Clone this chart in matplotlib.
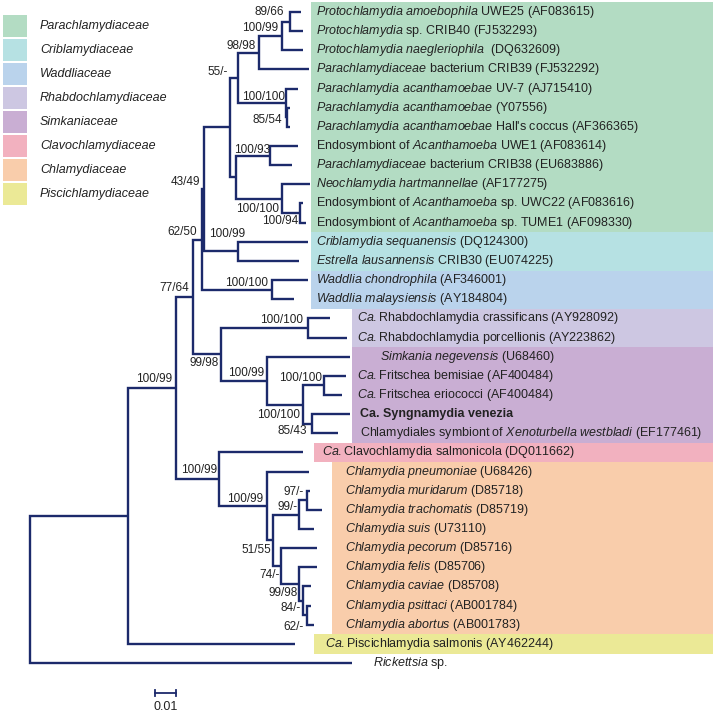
import matplotlib
matplotlib.use('Agg')
import matplotlib.pyplot as plt
from matplotlib.patches import Rectangle

plt.rcParams['font.family'] = 'Liberation Sans'
plt.rcParams['mathtext.fontset'] = 'custom'
plt.rcParams['mathtext.rm'] = 'Liberation Sans'
plt.rcParams['mathtext.it'] = 'Liberation Sans:italic'
plt.rcParams['mathtext.bf'] = 'Liberation Sans:bold'

# --- tree data -------------------------------------------------------------
# internal nodes, parents always listed before their children
node_names = ['root', 'ingroup', 'top', 'n77', 'n62', 'n43', 'para', 'n55',
              'n98', 'proto', 'n89', 'pac', 'n85', 'endo', 'n93', 'neo',
              'n94', 'crib', 'wad', 'n99', 'rhab', 'simk', 'frix', 'fri',
              'n85b', 'chlcl', 'chl', 'n51', 'n99m', 'n97', 'n74', 'n99c',
              'n84', 'n62c']
node_parent = [None, 'root', 'ingroup', 'top', 'n77', 'n62', 'n43', 'para',
               'n55', 'n98', 'proto', 'n55', 'pac', 'para', 'endo', 'endo',
               'neo', 'n43', 'n62', 'n77', 'n99', 'n99', 'simk', 'frix',
               'frix', 'top', 'chlcl', 'chl', 'n51', 'n99m', 'n51', 'n74',
               'n99c', 'n84']
# branch lengths (substitutions / site)
node_len = [0.0, 0.0467, 0.0229, 0.0081, 0.0043, 0.0010, 0.0124, 0.0038,
            0.0100, 0.0110, 0.0038, 0.0229, 0.0005, 0.0029, 0.0162, 0.0219,
            0.0086, 0.0162, 0.0333, 0.0133, 0.0414, 0.0219, 0.0171, 0.0100,
            0.0043, 0.0205, 0.0229, 0.0029, 0.0124, 0.0038, 0.0038, 0.0086,
            0.0019, 0.0019]
node_support = ['', '', '100/99', '77/64', '62/50', '43/49', '', '55/-',
                '98/98', '100/99', '89/66', '100/100', '85/54', '', '100/93',
                '100/100', '100/94', '100/99', '100/100', '99/98', '100/100',
                '100/99', '100/100', '100/100', '85/43', '100/99', '100/99',
                '51/55', '99/-', '97/-', '74/-', '99/98', '84/-', '62/-']

# leaves, top to bottom
leaf_labels = [
    r"$\mathit{Protochlamydia\ amoebophila}$ UWE25 (AF083615)",
    r"$\mathit{Protochlamydia}$ sp. CRIB40 (FJ532293)",
    r"$\mathit{Protochlamydia\ naegleriophila}$  (DQ632609)",
    r"$\mathit{Parachlamydiaceae}$ bacterium CRIB39 (FJ532292)",
    r"$\mathit{Parachlamydia\ acanthamoebae}$ UV-7 (AJ715410)",
    r"$\mathit{Parachlamydia\ acanthamoebae}$ (Y07556)",
    r"$\mathit{Parachlamydia\ acanthamoebae}$ Hall's coccus (AF366365)",
    r"Endosymbiont of $\mathit{Acanthamoeba}$ UWE1 (AF083614)",
    r"$\mathit{Parachlamydiaceae}$ bacterium CRIB38 (EU683886)",
    r"$\mathit{Neochlamydia\ hartmannellae}$ (AF177275)",
    r"Endosymbiont of $\mathit{Acanthamoeba}$ sp. UWC22 (AF083616)",
    r"Endosymbiont of $\mathit{Acanthamoeba}$ sp. TUME1 (AF098330)",
    r"$\mathit{Criblamydia\ sequanensis}$ (DQ124300)",
    r"$\mathit{Estrella\ lausannensis}$ CRIB30 (EU074225)",
    r"$\mathit{Waddlia\ chondrophila}$ (AF346001)",
    r"$\mathit{Waddlia\ malaysiensis}$ (AY184804)",
    r"$\mathit{Ca.}$Rhabdochlamydia crassificans (AY928092)",
    r"$\mathit{Ca.}$Rhabdochlamydia porcellionis (AY223862)",
    r"$\mathit{Simkania\ negevensis}$ (U68460)",
    r"$\mathit{Ca.}$Fritschea bemisiae (AF400484)",
    r"$\mathit{Ca.}$Fritschea eriococci (AF400484)",
    "Ca. Syngnamydia venezia",
    r"Chlamydiales symbiont of $\mathit{Xenoturbella\ westbladi}$ (EF177461)",
    r"$\mathit{Ca.}$Clavochlamydia salmonicola (DQ011662)",
    r"$\mathit{Chlamydia\ pneumoniae}$ (U68426)",
    r"$\mathit{Chlamydia\ muridarum}$ (D85718)",
    r"$\mathit{Chlamydia\ trachomatis}$ (D85719)",
    r"$\mathit{Chlamydia\ suis}$ (U73110)",
    r"$\mathit{Chlamydia\ pecorum}$ (D85716)",
    r"$\mathit{Chlamydia\ felis}$ (D85706)",
    r"$\mathit{Chlamydia\ caviae}$ (D85708)",
    r"$\mathit{Chlamydia\ psittaci}$ (AB001784)",
    r"$\mathit{Chlamydia\ abortus}$ (AB001783)",
    r"$\mathit{Ca.}$Piscichlamydia salmonis (AY462244)",
    r"$\mathit{Rickettsia}$ sp.",
]
bold_leaves = [21]
leaf_parent = ['n89', 'n89', 'proto', 'n98', 'pac', 'n85', 'n85', 'n93', 'n93',
               'neo', 'n94', 'n94', 'crib', 'crib', 'wad', 'wad', 'rhab', 'rhab',
               'simk', 'fri', 'fri', 'n85b', 'n85b', 'chlcl', 'chl', 'n97', 'n97',
               'n99m', 'n74', 'n99c', 'n84', 'n62c', 'n62c', 'ingroup', 'root']
leaf_len = [0.0052, 0.0062, 0.0100, 0.0238, 0.0057, 0.0010, 0.0010, 0.0129,
            0.0105, 0.0133, 0.0014, 0.0024, 0.0333, 0.0290, 0.0171, 0.0105,
            0.0105, 0.0186, 0.0395, 0.0105, 0.0086, 0.0181, 0.0124, 0.0400,
            0.0200, 0.0014, 0.0071, 0.0071, 0.0171, 0.0086, 0.0038, 0.0019,
            0.0029, 0.0795, 0.1533]

# families: first / last leaf row
families = ['Parachlamydiaceae', 'Criblamydiaceae', 'Waddliaceae',
            'Rhabdochlamydiaceae', 'Simkaniaceae', 'Clavochlamydiaceae',
            'Chlamydiaceae', 'Piscichlamydiaceae']
family_first = [0, 12, 14, 16, 18, 23, 24, 33]
family_last = [11, 13, 15, 17, 22, 23, 32, 33]
family_colors = ['#b3dcc3', '#b6e1e3', '#bad3ec', '#cdc7e2', '#c9aed3',
                 '#f2b1bf', '#f9cdab', '#ebe996']

# --- layout (pixels of the 716x715 figure) ----------------------------------
W, H = 716, 715
ROOT_PX = 30
PX_PER_UNIT = 2100.0
ROW0_PX, ROW_PX = 12.0, 19.15
box_left_px = [311, 311, 311, 352, 352, 314, 332, 314]
text_left_px = [316, 316, 316, 357, 357, 322, 345, 325]
box_right_px = 713
label_left_override = {18: 380, 21: 360, 22: 360, 34: 373}
# support label offsets (dx, dy) in pixels from the node, text right aligned
support_offset = {
    'top': (-4, -9), 'n77': (-4, -9), 'n62': (-5, -8), 'n43': (-4, -7),
    'n55': (-10, -6), 'n98': (-4, -7), 'proto': (-4, -8), 'n89': (-6, -9.5),
    'pac': (-1, -6), 'n85': (-5, 2.5), 'n93': (0, -6), 'neo': (-3, 10),
    'n94': (-2, 7.5), 'crib': (7, -17), 'wad': (-4, -7), 'n99': (-2, 9),
    'rhab': (-5, -7.5), 'simk': (-3, -8), 'frix': (-3, 10), 'fri': (-2, -7.5),
    'n85b': (-5, 7.5), 'chlcl': (-2, -9), 'chl': (-4, -7), 'n51': (-2, 10),
    'n99m': (-2, -7.5), 'n97': (-4, -8.5), 'n74': (-2, 9), 'n99c': (-2, 8.5),
    'n84': (-3, 7), 'n62c': (-4, 11.5),
}

LINE = '#1c2a6b'
TXT = '#222222'


def px_x(px):
    return (px - ROOT_PX) / PX_PER_UNIT


def px_y(py):
    return (py - ROW0_PX) / ROW_PX


# --- compute node positions -------------------------------------------------
xpos = {}
for name, par, bl in zip(node_names, node_parent, node_len):
    xpos[name] = 0.0 if par is None else xpos[par] + bl

children = {n: [] for n in node_names}
ypos = {}
leaf_x = []
for i, (par, bl) in enumerate(zip(leaf_parent, leaf_len)):
    leaf_x.append(xpos[par] + bl)
    ypos[('leaf', i)] = i
    children[par].append(('leaf', i))
for name, par in zip(node_names, node_parent):
    if par is not None:
        children[par].append(name)
for name in reversed(node_names):
    ys = [ypos[c] for c in children[name]]
    ypos[name] = (min(ys) + max(ys)) / 2.0

# --- draw -------------------------------------------------------------------
fig = plt.figure(figsize=(W / 100, H / 100), dpi=100)
ax = fig.add_axes([0, 0, 1, 1])
ax.set_xlim(px_x(0), px_x(W))
ax.set_ylim(px_y(H), px_y(0))
ax.axis('off')

# family boxes
for k in range(len(families)):
    x0 = px_x(box_left_px[k])
    ax.add_patch(Rectangle((x0, family_first[k] - 0.5), px_x(box_right_px) - x0,
                           family_last[k] - family_first[k] + 1,
                           facecolor=family_colors[k], edgecolor='none', zorder=0))

lw = 1.7
# branches
for name, par in zip(node_names, node_parent):
    if par is None:
        continue
    ax.plot([xpos[par], xpos[par], xpos[name]], [ypos[par], ypos[name], ypos[name]],
            color=LINE, lw=lw, solid_joinstyle='miter', solid_capstyle='butt', zorder=2)
for i, par in enumerate(leaf_parent):
    ax.plot([xpos[par], xpos[par], leaf_x[i]], [ypos[par], i, i],
            color=LINE, lw=lw, solid_joinstyle='miter', solid_capstyle='butt', zorder=2)

# support values
for name, sup in zip(node_names, node_support):
    if not sup:
        continue
    dx, dy = support_offset[name]
    ax.annotate(sup, xy=(xpos[name], ypos[name]), xytext=(dx, -dy),
                textcoords='offset pixels', ha='right', va='center',
                fontsize=8.5, color=TXT, zorder=3)

# tip labels
fam_of_leaf = {}
for k in range(len(families)):
    for i in range(family_first[k], family_last[k] + 1):
        fam_of_leaf[i] = k
for i, lab in enumerate(leaf_labels):
    if i in label_left_override:
        lx = label_left_override[i]
    else:
        lx = text_left_px[fam_of_leaf[i]]
    ax.text(px_x(lx), i, lab, ha='left', va='center', fontsize=9, color=TXT,
            fontweight='bold' if i in bold_leaves else 'normal', zorder=3)

# legend
for k, fam in enumerate(families):
    top = 15 + 24 * k
    ax.add_patch(Rectangle((px_x(3), px_y(top + 22)), px_x(27) - px_x(3),
                           px_y(top) - px_y(top + 22),
                           facecolor=family_colors[k], edgecolor='none'))
    ax.text(px_x(40), px_y(top + 11), fam, style='italic', ha='left', va='center',
            fontsize=9, color=TXT)

# scale bar
sx, sy = px_x(155), px_y(693)
ax.plot([sx, sx + 0.01], [sy, sy], color=LINE, lw=1.3)
ax.plot([sx, sx], [sy - 0.15, sy + 0.15], color=LINE, lw=1.3)
ax.plot([sx + 0.01, sx + 0.01], [sy - 0.15, sy + 0.15], color=LINE, lw=1.3)
ax.text(sx + 0.005, px_y(707), '0.01', ha='center', va='center', fontsize=9, color=TXT)

fig.savefig('out.png', dpi=100)
